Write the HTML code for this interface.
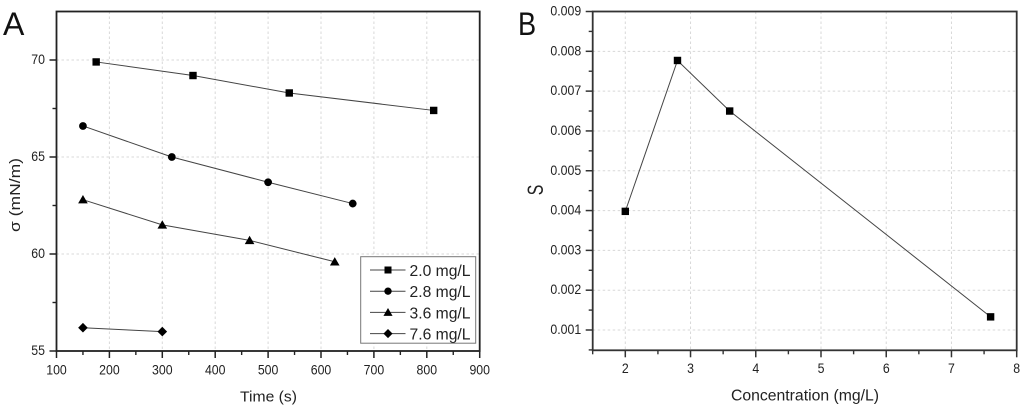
<!DOCTYPE html>
<html>
<head>
<meta charset="utf-8">
<style>
html,body{margin:0;padding:0;background:#fff;width:1024px;height:413px;overflow:hidden}
svg{display:block;font-family:"Liberation Sans",sans-serif;filter:blur(0.3px)}
text{fill:#222}
</style>
</head>
<body>
<svg id="fig" width="1024" height="413" viewBox="0 0 1024 413" xmlns="http://www.w3.org/2000/svg">
  <text transform="translate(3,35) scale(1,1)" font-size="32" style="fill:#111">A</text>
  <text transform="translate(518,35) scale(0.85,1)" font-size="32" style="fill:#111">B</text>
  <text x="240" y="401.5" font-size="15" textLength="57" lengthAdjust="spacingAndGlyphs">Time (s)</text>
  <text transform="translate(20,232) rotate(-90)" font-size="15" textLength="74" lengthAdjust="spacingAndGlyphs">σ (mN/m)</text>
  <text x="731" y="400.5" font-size="15.5" textLength="148" lengthAdjust="spacingAndGlyphs">Concentration (mg/L)</text>
  <text transform="translate(543,190) rotate(-90) scale(0.72,1)" font-size="22" text-anchor="middle">S</text>
  <g id="a"></g>
  <g id="b"></g>
  <g id="legend"></g>
</svg>
<script>
var aXTicks = [100,200,300,400,500,600,700,800,900];
var aYTicks = [55,60,65,70];
var aSeriesNames = ["2.0 mg/L","2.8 mg/L","3.6 mg/L","7.6 mg/L"];
var aMarkers = ["square","circle","triangle","diamond"];
var aTimes20 = [175,358,540,813];
var aSigma20 = [69.9,69.2,68.3,67.4];
var aTimes28 = [150,318,500,660];
var aSigma28 = [66.6,65.0,63.7,62.6];
var aTimes36 = [150,300,465,626];
var aSigma36 = [62.8,61.5,60.7,59.6];
var aTimes76 = [150,300];
var aSigma76 = [56.2,56.0];
var bXTicks = [2,3,4,5,6,7,8];
var bYTicks = [0.001,0.002,0.003,0.004,0.005,0.006,0.007,0.008,0.009];
var bConc = [2.0,2.8,3.6,7.6];
var bS = [0.00398,0.00777,0.0065,0.00133];

var NS = "http://www.w3.org/2000/svg";
function mk(parent, tag, attrs, txt){
  var e = document.createElementNS(NS, tag);
  for (var k in attrs) e.setAttribute(k, attrs[k]);
  if (txt !== undefined) e.textContent = txt;
  parent.appendChild(e);
  return e;
}
function scale(d0,d1,r0,r1){ return function(v){ return r0 + (v-d0)*(r1-r0)/(d1-d0); }; }
function marker(parent, kind, cx, cy, s){
  var m;
  if (kind === "square") m = mk(parent,"rect",{x:cx-s,y:cy-s,width:2*s,height:2*s,fill:"#000"});
  else if (kind === "circle") m = mk(parent,"circle",{cx:cx,cy:cy,r:s*1.05,fill:"#000"});
  else if (kind === "triangle") m = mk(parent,"polygon",{points:(cx)+","+(cy-s*1.25)+" "+(cx+s*1.3)+","+(cy+s)+" "+(cx-s*1.3)+","+(cy+s),fill:"#000"});
  else m = mk(parent,"polygon",{points:cx+","+(cy-s*1.3)+" "+(cx+s*1.3)+","+cy+" "+cx+","+(cy+s*1.3)+" "+(cx-s*1.3)+","+cy,fill:"#000"});
  return m;
}
function frame(g, o){
  var x = o.x, y = o.y, L = o.L, R = o.R, T = o.T, B = o.B;
  o.xTicks.forEach(function(v){
    var px = x(v);
    if (px > L+1 && px < R-1) {
      var gl = mk(g,"line",{x1:px,x2:px,y1:T,y2:B,stroke:"#d8d8d8","stroke-width":1,"stroke-dasharray":"2.5 2.5"});
      
      
    }
  });
  o.yTicks.forEach(function(v){
    var py = y(v);
    if (py > T+1 && py < B-1) {
      var gl = mk(g,"line",{x1:L,x2:R,y1:py,y2:py,stroke:"#d8d8d8","stroke-width":1,"stroke-dasharray":"2.5 2.5"});
      
      
    }
  });
  var box = mk(g,"rect",{x:L,y:T,width:R-L,height:B-T,fill:"none",stroke:o.axis,"stroke-width":1.8});
  
  
  o.xTicks.forEach(function(v){
    var px = x(v);
    var t = mk(g,"line",{x1:px,x2:px,y1:B,y2:B+7,stroke:o.axis,"stroke-width":1.5});
    
    
    var lb = mk(g,"text",{transform:"translate("+px+","+(B+o.xdy)+") scale(0.88,1)","font-size":o.fs,"text-anchor":"middle"},String(v));
    
    
  });
  o.xMinor.forEach(function(v){
    var px = x(v);
    var t = mk(g,"line",{x1:px,x2:px,y1:B,y2:B+4,stroke:o.axis,"stroke-width":1.4});
    
    
  });
  o.yTicks.forEach(function(v){
    var py = y(v);
    var t = mk(g,"line",{x1:L-7,x2:L,y1:py,y2:py,stroke:o.axis,"stroke-width":1.5});
    
    
    var lb = mk(g,"text",{transform:"translate("+(L-11.5)+","+(py+o.dy)+") scale(0.88,1)","font-size":o.fs,"text-anchor":"end"},o.fmt(v));
    
    
  });
  o.yMinor.forEach(function(v){
    var py = y(v);
    var t = mk(g,"line",{x1:L-4,x2:L,y1:py,y2:py,stroke:o.axis,"stroke-width":1.4});
    
    
  });
}
function series(g, xs, ys, x, y, kind, s){
  var pts = xs.map(function(v,i){ return x(v)+","+y(ys[i]); }).join(" ");
  var l = mk(g,"polyline",{points:pts,fill:"none",stroke:"#444","stroke-width":1});
  
  
  xs.forEach(function(v,i){
    var m = marker(g,kind,x(v),y(ys[i]),s);
    
    
  });
}

/* Panel A */
var ax = scale(100,900,56.5,479.7);
var ay = scale(55,70,351,60);
var gA = document.getElementById("a");
frame(gA,{x:ax,y:ay,L:56.5,R:479.7,T:11.5,B:351,axis:"#222",fs:14,dy:4,xdy:23.5,
  xTicks:aXTicks,yTicks:aYTicks,
  xMinor:[150,250,350,450,550,650,750,850],yMinor:[57.5,62.5,67.5],
  fmt:function(v){return String(v);}});
var aXs = [aTimes20,aTimes28,aTimes36,aTimes76];
var aYs = [aSigma20,aSigma28,aSigma36,aSigma76];
aXs.forEach(function(xs,i){ series(gA,xs,aYs[i],ax,ay,aMarkers[i],3.7); });

/* Legend */
var gL = document.getElementById("legend");
var lb = mk(gL,"rect",{x:360.7,y:256.7,width:115,height:86.5,fill:"#fff",stroke:"#777","stroke-width":1});


aSeriesNames.forEach(function(n,i){
  var yy = 270 + i*21.2;
  var ll = mk(gL,"line",{x1:370,x2:405.5,y1:yy,y2:yy,stroke:"#444","stroke-width":1});
  
  
  var mm = marker(gL,aMarkers[i],388,yy,3.5);
  
  
  var tt = mk(gL,"text",{x:409.5,y:yy+6,"font-size":16,textLength:61,lengthAdjust:"spacingAndGlyphs"},n);
  
  
});

/* Panel B */
var bx = scale(2,8,625.3,1016.7);
var by = scale(0.001,0.009,330,11.5);
var gB = document.getElementById("b");
frame(gB,{x:bx,y:by,L:592.7,R:1016.7,T:11.5,B:350.3,axis:"#333",fs:14,dy:4,xdy:22.5,
  xTicks:bXTicks,yTicks:bYTicks,
  xMinor:[1.5,2.5,3.5,4.5,5.5,6.5,7.5],yMinor:[0.0005,0.0015,0.0025,0.0035,0.0045,0.0055,0.0065,0.0075,0.0085],
  fmt:function(v){return v.toFixed(3);}});
series(gB,bConc,bS,bx,by,"square",3.7);
</script>
</body>
</html>
